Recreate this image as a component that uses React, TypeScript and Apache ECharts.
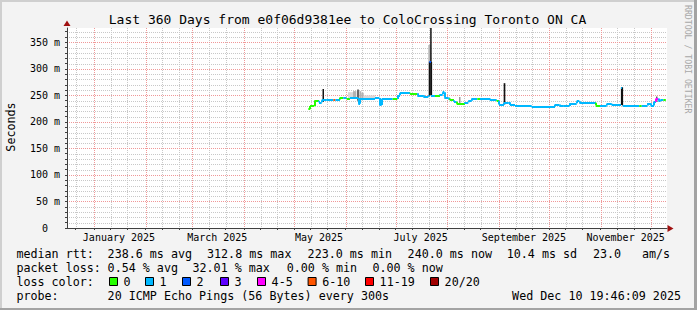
import React, { useEffect, useRef } from "react";
import * as echarts from "echarts";

// ---------- time frame ----------
const DAY_MS = 86400000;
const END_MS = Date.UTC(2025, 11, 10, 19, 46, 9);
const SPAN_DAYS = 360;
const START_MS = END_MS - SPAN_DAYS * DAY_MS;
const DATA_END_DAY = 359.3;

// ---------- median rtt (ms), step segments starting at dayOffsets (days after START) ----------
const dayOffsets = [144.8, 145.8, 148.4, 151.2, 152.8, 155.8, 159.8, 161.0, 163.8, 165.8, 167.8, 169.8, 174.8, 175.8, 184.8, 187.4, 188.8, 195.4, 198.2, 199.8, 205.8, 210.2, 213.8, 216.8, 217.4, 218.4, 220.8, 223.8, 225.4, 226.4, 228.8, 229.8, 232.2, 233.8, 238.8, 240.8, 242.8, 246.2, 247.8, 253.8, 257.8, 259.2, 262.2, 264.8, 265.8, 268.8, 278.8, 292.8, 295.4, 297.8, 301.4, 305.8, 307.4, 317.4, 319.8, 323.8, 326.8, 332.4, 333.4, 343.4, 344.8, 348.2, 350.2, 352.2, 353.4, 354.8, 356.2, 357.8];
const medianRtt = [224, 230, 240, 237, 241, 242, 242, 242, 246, 245, 244, 245, 234, 243, 245, 232, 243, 243, 250, 255, 254, 250, 248, 250, 313, 250, 250, 252, 256, 246, 244, 241, 238, 234, 237, 240, 244, 244, 244, 241, 240, 233, 236, 237, 232, 230, 229, 233, 231, 230, 235, 239, 236, 231, 231, 234, 232, 265, 231, 231, 231, 235, 231, 238, 244, 240, 242, 242];
const lossClass = [0, 0, 0, 1, 1, 1, 5, 1, 0, 1, 0, 1, 1, 1, 1, 1, 1, 0, 1, 1, 0, 1, 1, 1, 2, 1, 0, 1, 1, 1, 1, 0, 1, 0, 1, 1, 1, 0, 1, 1, 0, 1, 1, 1, 1, 1, 1, 1, 1, 1, 1, 1, 1, 0, 1, 1, 1, 1, 1, 0, 1, 1, 1, 1, 4, 1, 1, 0];

// ---------- smoke (ping spread) ----------
const smokeDay = [153.3, 168.6, 171.6, 174.0, 175.4, 176.6, 178.0, 216.8, 217.9, 235.4, 262.0, 353.6];
const smokeWidth = [0.9, 3.0, 2.0, 1.2, 1.2, 1.4, 7.0, 1.4, 0.9, 0.6, 1.0, 0.6];
const smokeLow = [238, 244, 244, 240, 240, 243, 244, 250, 250, 234, 233, 238];
const smokeHigh = [262, 256, 258, 261, 258, 255, 250, 345, 377, 247, 273, 248];
const smokeShade = [0, 3, 2, 1, 2, 2, 3, 2, 0, 1, 0, 0];

// ---------- legend ----------
const lossLabels = ["0", "1", "2", "3", "4-5", "6-10", "11-19", "20/20"];
const lossColors = ["#26ff00", "#00b8ff", "#0059ff", "#5e00ff", "#ff00ff", "#ff5500", "#ff0000", "#a00000"];
const medianStats = ["238.6 ms avg", "312.8 ms max", "223.0 ms min", "240.0 ms now", "10.4 ms sd", "23.0", "am/s"];
const lossStats = ["0.54 % avg", "32.01 % max", "0.00 % min", "0.00 % now"];
const probeText = "20 ICMP Echo Pings (56 Bytes) every 300s";
const stampText = "Wed Dec 10 19:46:09 2025";
const titleText = "Last 360 Days from e0f06d9381ee to ColoCrossing Toronto ON CA";

// ---------- axes ----------
const gridMonths: [number, number][] = [[2024, 11], [2025, 0], [2025, 1], [2025, 2], [2025, 3], [2025, 4], [2025, 5], [2025, 6], [2025, 7], [2025, 8], [2025, 9], [2025, 10], [2025, 11]];
const minorDays = [1, 11, 21];
const labelMonths: [number, number][] = [[2025, 0], [2025, 2], [2025, 4], [2025, 6], [2025, 8], [2025, 10]];
const monthNames = ["January", "February", "March", "April", "May", "June", "July", "August", "September", "October", "November", "December"];
const Y_MAX = 377;
const Y_MINOR_STEP = 10;
const yMajorTicks = [0, 50, 100, 150, 200, 250, 300, 350];

// ---------- layout (positions only) ----------
const FONT = "'DejaVu Sans Mono', monospace";
const LEG_FS = 11.7;
const rowY = [254, 268, 282, 296];
const medianStatX = [107.6, 207, 307.6, 407.6, 506.7, 593, 642];
const lossStatX = [107.6, 192.5, 286.7, 372.4];
const boxX = [109, 145, 182, 220, 257, 307.6, 365, 430];

const inRange = (t: number) => t > START_MS && t < END_MS;
const monthStarts = gridMonths.map(([y, m]) => Date.UTC(y, m, 1)).filter(inRange);
const minorTicks: number[] = [];
gridMonths.forEach(([y, m]) => minorDays.forEach((d) => minorTicks.push(Date.UTC(y, m, d))));
const minorTicksIn = minorTicks.filter(inRange);
const yMinorTicks: number[] = [];
for (let v = 0; v < Y_MAX; v += Y_MINOR_STEP) yMinorTicks.push(v);
const labelValues = labelMonths.map(([y, m]) => Date.UTC(y, m, 1) + 15 * DAY_MS);
const labelTexts = labelMonths.map(([y, m]) => `${monthNames[m]} ${y}`);

const shadeColors = ["#141414", "#6a6a6a", "#b2b2b2", "#d8d8d8"];
const gridColors = ["#c8c8c8", "#f09898"];
const dayToMs = (d: number) => START_MS + d * DAY_MS;

export default function App() {
  const ref = useRef<HTMLDivElement>(null);
  useEffect(() => {
    if (!ref.current) return;
    const chart = echarts.init(ref.current, null, { renderer: "svg" });

    const segs: any[] = [];
    for (let i = 0; i < dayOffsets.length; i++) {
      const t0 = dayToMs(dayOffsets[i]);
      const t1 = dayToMs(i + 1 < dayOffsets.length ? dayOffsets[i + 1] : DATA_END_DAY);
      const col = lossColors[lossClass[i]];
      if (i > 0) {
        const jump = Math.abs(medianRtt[i] - medianRtt[i - 1]);
        segs.push({
          coords: [[t0, medianRtt[i - 1]], [t0, medianRtt[i]]],
          lineStyle: { color: jump > 15 ? "#111111" : col, width: jump > 15 ? 1.2 : 2 },
        });
      }
      segs.push({ coords: [[t0, medianRtt[i]], [t1, medianRtt[i]]], lineStyle: { color: col } });
    }

    const smokeData = smokeDay.map((d, i) => [dayToMs(d), smokeLow[i], smokeHigh[i], smokeWidth[i], smokeShade[i]]);

    // grid lines: [orientation (0 vertical / 1 horizontal), value, major]
    const gridData: number[][] = [
      ...minorTicksIn.filter((t) => monthStarts.indexOf(t) < 0).map((t) => [0, t, 0]),
      ...yMinorTicks.filter((v) => yMajorTicks.indexOf(v) < 0 && v > 0).map((v) => [1, v, 0]),
      ...monthStarts.map((t) => [0, t, 1]),
      ...yMajorTicks.filter((v) => v > 0).map((v) => [1, v, 1]),
    ];

    const txt = (text: string, x: number, y: number, extra: any = {}) => ({
      type: "text",
      x,
      y,
      silent: true,
      style: { text, fontFamily: FONT, fontSize: LEG_FS, fill: "#000", align: "left", verticalAlign: "middle", ...extra },
    });

    const graphics: any[] = [
      { type: "rect", shape: { x: 0, y: 0, width: 697, height: 2 }, style: { fill: "#cfcfcf" }, silent: true },
      { type: "rect", shape: { x: 0, y: 0, width: 2, height: 310 }, style: { fill: "#cfcfcf" }, silent: true },
      { type: "rect", shape: { x: 694, y: 0, width: 3, height: 310 }, style: { fill: "#a3a3a3" }, silent: true },
      { type: "rect", shape: { x: 0, y: 308, width: 697, height: 2 }, style: { fill: "#a3a3a3" }, silent: true },
      txt(titleText, 347.5, 19, { fontSize: 13, align: "center" }),
      { ...txt("Seconds", 11, 127, { align: "center" }), rotation: Math.PI / 2 },
      { ...txt("RRDTOOL / TOBI OETIKER", 688, 5, { fontSize: 8.2, fill: "#a8a8a8" }), rotation: -Math.PI / 2 },
      { type: "polygon", shape: { points: [[63.5, 26], [70.5, 26], [67, 20.5]] }, style: { fill: "#a01010" }, silent: true },
      { type: "polygon", shape: { points: [[667.5, 225], [667.5, 232], [673.5, 228.5]] }, style: { fill: "#a01010" }, silent: true },
      txt("median rtt:", 16.4, rowY[0]),
      ...medianStats.map((s, i) => txt(s, medianStatX[i], rowY[0])),
      txt("packet loss:", 16.4, rowY[1]),
      ...lossStats.map((s, i) => txt(s, lossStatX[i], rowY[1])),
      txt("loss color:", 16.4, rowY[2]),
      ...lossLabels.map((l, i) => ({
        type: "rect",
        silent: true,
        shape: { x: boxX[i] + 0.5, y: rowY[2] - 4.5, width: 8, height: 8 },
        style: { fill: lossColors[i], stroke: "#000", lineWidth: 1 },
      })),
      ...lossLabels.map((l, i) => txt(l, boxX[i] + 14.6, rowY[2])),
      txt("probe:", 16.4, rowY[3]),
      txt(probeText, 107.6, rowY[3]),
      txt(stampText, 681, rowY[3], { align: "right" }),
    ];

    const axisFont = { fontFamily: FONT, fontSize: 10, color: "#000" };

    const option: any = {
      animation: false,
      backgroundColor: "#f3f3f3",
      grid: { left: 67, top: 28, width: 600, height: 200, show: true, backgroundColor: "#ffffff", borderWidth: 0 },
      xAxis: [
        {
          type: "value",
          position: "bottom",
          min: START_MS,
          max: END_MS,
          axisLine: { show: true, lineStyle: { color: "#404040", width: 1 } },
          axisTick: { show: false },
          axisLabel: { show: false },
          splitLine: { show: false },
          z: 5,
        },
        {
          type: "value",
          position: "bottom",
          min: START_MS,
          max: END_MS,
          axisLine: { show: false },
          axisTick: { show: true, length: 2, customValues: minorTicksIn, lineStyle: { color: "#404040" } },
          axisLabel: {
            show: true,
            customValues: labelValues,
            margin: 4,
            ...axisFont,
            formatter: (v: number) => {
              const k = labelValues.indexOf(v);
              return k >= 0 ? labelTexts[k] : "";
            },
          },
          splitLine: { show: false },
        },
      ],
      yAxis: [
        {
          type: "value",
          position: "left",
          min: 0,
          max: Y_MAX,
          axisLine: { show: true, lineStyle: { color: "#404040", width: 1 } },
          axisTick: { show: true, length: 2, customValues: yMinorTicks, lineStyle: { color: "#404040" } },
          axisLabel: {
            show: true,
            customValues: yMajorTicks,
            margin: 7,
            ...axisFont,
            formatter: (v: number) => (v === 0 ? "{z|0}" : `${v} m`),
            rich: { z: { ...axisFont, padding: [0, 12, 0, 0] } },
          },
          splitLine: { show: false },
          z: 5,
        },
      ],
      series: [
        {
          type: "custom",
          xAxisIndex: 0,
          yAxisIndex: 0,
          silent: true,
          data: gridData,
          renderItem: (params: any, api: any) => {
            const cs = params.coordSys;
            const kind = api.value(0);
            const v = api.value(1);
            const major = api.value(2);
            const style = { stroke: gridColors[major], lineWidth: 1, lineDash: [1, 1] };
            if (kind === 0) {
              const x = Math.round(api.coord([v, 0])[0]) + 0.5;
              return { type: "line", shape: { x1: x, y1: cs.y, x2: x, y2: cs.y + cs.height }, style };
            }
            const y = Math.round(api.coord([START_MS, v])[1]) + 0.5;
            return { type: "line", shape: { x1: cs.x, y1: y, x2: cs.x + cs.width, y2: y }, style };
          },
        },
        {
          type: "custom",
          xAxisIndex: 0,
          yAxisIndex: 0,
          data: smokeData,
          renderItem: (params: any, api: any) => {
            const t = api.value(0);
            const lo = api.value(1);
            const hi = api.value(2);
            const w = api.value(3);
            const s = api.value(4);
            const p0 = api.coord([t, hi]);
            const p1 = api.coord([t + w * DAY_MS, lo]);
            return {
              type: "rect",
              shape: { x: p0[0], y: p0[1], width: Math.max(1, p1[0] - p0[0]), height: p1[1] - p0[1] },
              style: { fill: shadeColors[s] },
            };
          },
        },
        {
          type: "lines",
          coordinateSystem: "cartesian2d",
          xAxisIndex: 0,
          yAxisIndex: 0,
          polyline: false,
          lineStyle: { width: 2, opacity: 1 },
          data: segs,
          silent: true,
        },
      ],
      graphic: graphics,
    };
    chart.setOption(option);
    return () => chart.dispose();
  }, []);
  return <div ref={ref} style={{ position: "fixed", left: 0, top: 0, width: 697, height: 310 }} />;
}
